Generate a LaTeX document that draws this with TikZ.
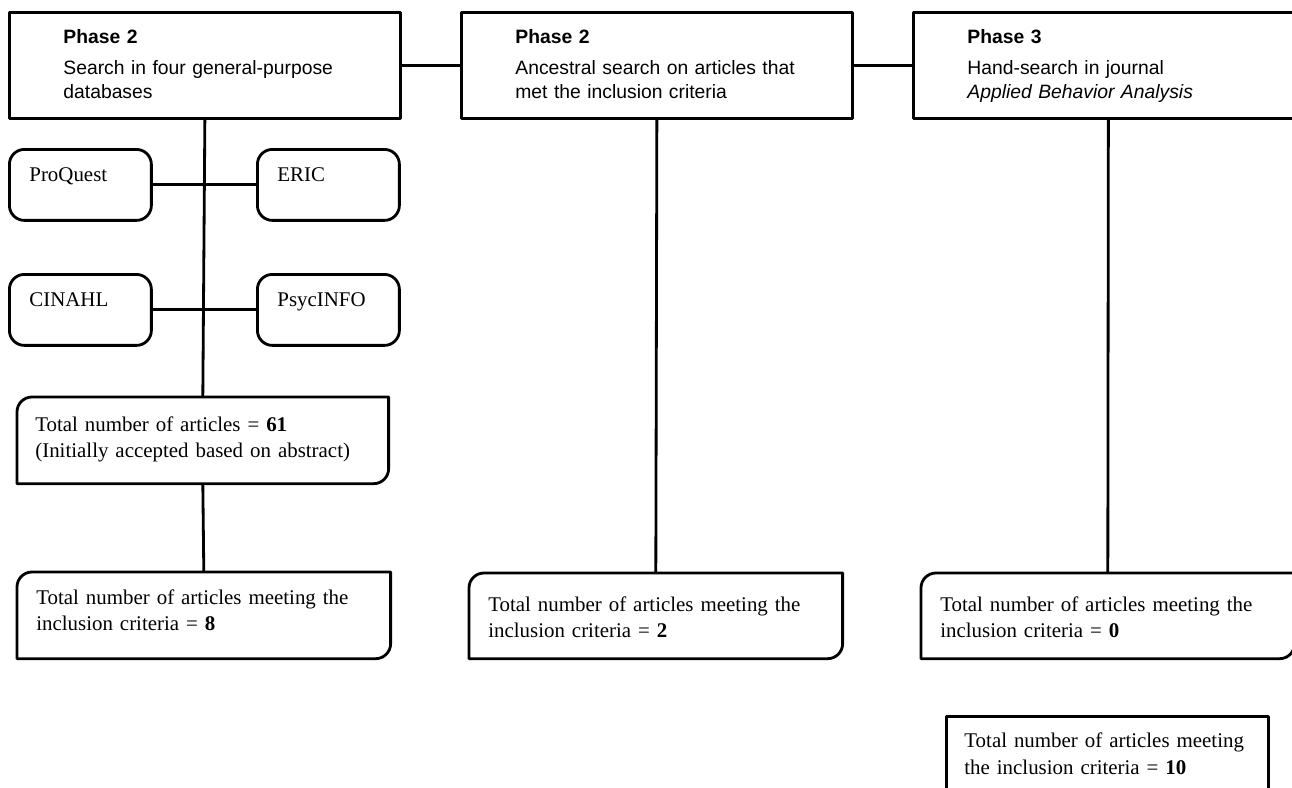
\documentclass[tikz,border=0pt]{standalone}
\usepackage{fontspec}
\setmainfont{Liberation Serif}
\newfontfamily\headfont{Liberation Sans}

% outline with only the top-left and bottom-right corners rounded
\newcommand{\halfround}[1]{%
  \draw[boxline] ([yshift=-0.3cm]#1.north west) arc[start angle=180, end angle=90, radius=0.3cm]
    -- (#1.north east) -- ([yshift=0.3cm]#1.south east)
    arc[start angle=0, end angle=-90, radius=0.3cm] -- (#1.south west) -- cycle;}

\tikzset{
  boxline/.style={line width=1.6pt},
  phasebox/.style={boxline, draw, rectangle, anchor=north west, align=left,
    inner ysep=0pt, inner xsep=1.08cm, text width=5.66cm,
    text height=0.62cm, text depth=1.5cm,
    font=\headfont\fontsize{11pt}{13.66pt}\selectfont},
  dbbox/.style={boxline, draw, rounded corners=0.3cm, anchor=north west, align=left,
    inner ysep=0pt, inner xsep=0.4cm, text width=2.04cm,
    text height=0.64cm, text depth=0.78cm,
    font=\fontsize{11.9pt}{14.8pt}\selectfont},
  countbox/.style={rectangle, anchor=north west, align=left,
    inner ysep=0pt, inner xsep=0.38cm, text width=6.7cm,
    font=\fontsize{11.9pt}{14.8pt}\selectfont},
  sumbox/.style={boxline, draw, rectangle, anchor=north west, align=left,
    inner ysep=0pt, inner xsep=0.36cm, text width=5.72cm,
    text height=0.62cm, text depth=1.3cm,
    font=\fontsize{11.9pt}{15.3pt}\selectfont},
}

\begin{document}
\begin{tikzpicture}[x=0.02cm, y=0.02cm, line join=round]
  \useasboundingbox (0,0) rectangle (1292,-788);
  \clip (0,0) rectangle (1292,-788);

  % three search phases across the top
  \node[phasebox] (phaseA) at (8,-11)
    {\textbf{Phase 2}\\[0.14cm]Search in four general-purpose\\databases};
  \node[phasebox] (phaseB) at (460,-11)
    {\textbf{Phase 2}\\[0.14cm]Ancestral search on articles that\\met the inclusion criteria};
  \node[phasebox, text width=5.64cm] (phaseC) at (912,-11)
    {\textbf{Phase 3}\\[0.14cm]Hand-search in journal\\\textit{Applied Behavior Analysis}};

  % the four databases
  \node[dbbox] (proquest) at (8,-148) {ProQuest};
  \node[dbbox] (eric)     at (256,-148) {ERIC};
  \node[dbbox] (cinahl)   at (8,-273) {CINAHL};
  \node[dbbox] (psycinfo) at (256,-273) {PsycINFO};

  % counts
  \node[countbox, inner xsep=0.36cm, text height=0.68cm, text depth=1.04cm] (total61) at (17,-397)
    {Total number of articles = \textbf{61}\\(Initially accepted based on abstract)};
  \node[countbox, text height=0.64cm, text depth=1.08cm] (meet8) at (17,-572)
    {Total number of articles meeting the\\inclusion criteria = \textbf{8}};
  \node[countbox, text height=0.76cm, text depth=0.94cm] (meet2) at (469,-573)
    {Total number of articles meeting the\\inclusion criteria = \textbf{2}};
  \node[countbox, text height=0.76cm, text depth=0.94cm] (meet0) at (921,-573)
    {Total number of articles meeting the\\inclusion criteria = \textbf{0}};
  \halfround{total61}
  \halfround{meet8}
  \halfround{meet2}
  \halfround{meet0}

  % overall total
  \node[sumbox] (meet10) at (945,-715)
    {Total number of articles meeting\\the inclusion criteria = \textbf{10}};

  % connectors
  \draw[boxline] (phaseA) -- (phaseB);
  \draw[boxline] (phaseB) -- (phaseC);
  \draw[boxline] (phaseA.south) -- (total61.north);
  \draw[boxline] (total61.south) -- (meet8.north);
  \draw[boxline] (proquest) -- (eric);
  \draw[boxline] (cinahl) -- (psycinfo);
  \draw[boxline] (phaseB.south) -- (meet2.north);
  \draw[boxline] (phaseC.south) -- (meet0.north);
\end{tikzpicture}
\end{document}
